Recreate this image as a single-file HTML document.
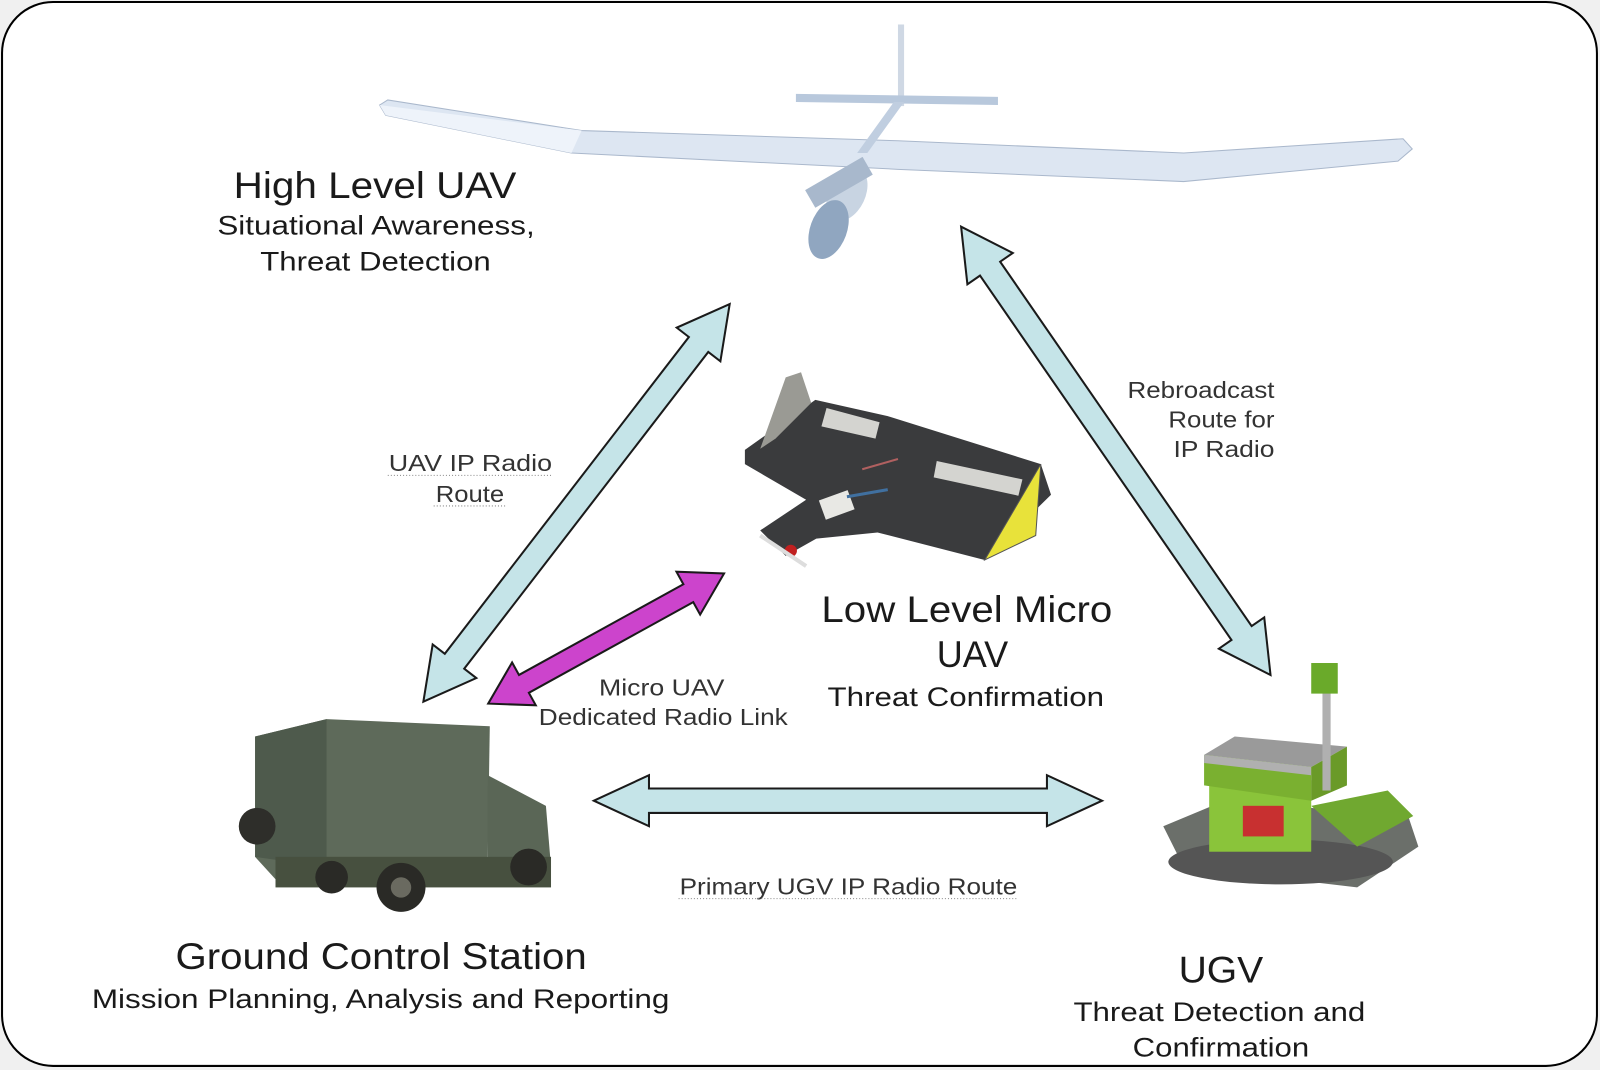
<!DOCTYPE html>
<html><head><meta charset="utf-8"><style>
html,body{margin:0;padding:0;background:#f0f0f0;width:1600px;height:1070px;overflow:hidden}
svg{display:block}
text{font-family:"Liberation Sans",Arial,sans-serif;fill:#1a1a1a}
.t{font-size:36px}.s{font-size:26px}.l{font-size:23px;fill:#333}
</style></head><body>
<svg width="1600" height="1070" viewBox="0 0 1568 1049" preserveAspectRatio="none">
<rect x="2" y="2" width="1563" height="1043" rx="50" fill="#fff" stroke="#000" stroke-width="2"/>

<!-- High level UAV -->
<g>
<polygon points="372,103 380,98 570,128 880,138 1160,150 1375,136 1384,146 1370,158 1160,178 880,166 560,150 378,113" fill="#dde6f2" stroke="#aab8cc" stroke-width="1"/>
<polygon points="372,103 570,128 560,150 378,113" fill="#eef3fa"/>
<rect x="880" y="24" width="6" height="80" fill="#cfd8e4"/>
<polygon points="780,92 978,95 978,103 780,100" fill="#b8c8dc"/>
<polygon points="876,100 886,100 850,150 840,150" fill="#c0cee0"/>
<ellipse cx="830" cy="190" rx="28" ry="18" fill="#c8d4e2" transform="rotate(-65 830 190)"/>
<ellipse cx="812" cy="225" rx="18" ry="30" fill="#90a6c0" transform="rotate(20 812 225)"/>
<rect x="790" y="170" width="65" height="20" fill="#a8b8cc" transform="rotate(-30 820 180)"/>
</g>
<text class="t" x="229" y="194" textLength="277" lengthAdjust="spacingAndGlyphs">High Level UAV</text>
<text class="s" x="213" y="230" textLength="311" lengthAdjust="spacingAndGlyphs">Situational Awareness,</text>
<text class="s" x="255" y="265" textLength="226" lengthAdjust="spacingAndGlyphs">Threat Detection</text>

<!-- Micro UAV -->
<g>
<polygon points="730,441 799,392 870,408 1020,455 1030,485 965,549 860,522 800,528 770,545 745,520 790,490 730,455" fill="#3a3b3d"/>
<polygon points="745,440 770,370 785,365 795,395 760,430" fill="#9a9a94"/>
<polygon points="1020,455 1015,525 965,549" fill="#e8e23a" stroke="#555" stroke-width="1"/>
<polygon points="810,400 862,414 858,430 805,418" fill="#d4d4d0"/>
<polygon points="918,452 1002,470 998,486 915,468" fill="#d4d4d0"/>
<rect x="805" y="485" width="30" height="20" fill="#e8e8e4" transform="rotate(-20 820 495)"/>
<line x1="845" y1="460" x2="880" y2="450" stroke="#b06060" stroke-width="2"/>
<line x1="830" y1="487" x2="870" y2="480" stroke="#4070a0" stroke-width="3"/>
<circle cx="775" cy="540" r="6" fill="#c02020"/>
<line x1="745" y1="525" x2="790" y2="555" stroke="#ddd" stroke-width="4"/>
</g>
<text class="t" x="805" y="610" textLength="285" lengthAdjust="spacingAndGlyphs">Low Level Micro</text>
<text class="t" x="918" y="654" textLength="70" lengthAdjust="spacingAndGlyphs">UAV</text>
<text class="s" x="811" y="692" textLength="271" lengthAdjust="spacingAndGlyphs">Threat Confirmation</text>

<!-- Truck -->
<g>
<polygon points="250,722 320,705 480,712 478,840 270,862 250,840" fill="#5e6a5a"/>
<polygon points="250,722 320,705 320,850 250,840" fill="#4e5a4c"/>
<polygon points="478,760 535,790 540,850 478,860" fill="#5a6656"/>
<rect x="270" y="840" width="270" height="30" fill="#47503f"/>
<circle cx="252" cy="810" r="18" fill="#2e2e2a"/>
<circle cx="393" cy="870" r="24" fill="#2a2a26"/>
<circle cx="393" cy="870" r="10" fill="#6a6a60"/>
<circle cx="518" cy="850" r="18" fill="#2a2a26"/>
<circle cx="325" cy="860" r="16" fill="#2a2a26"/>
</g>
<text class="t" x="172" y="950" textLength="403" lengthAdjust="spacingAndGlyphs">Ground Control Station</text>
<text class="s" x="90" y="988" textLength="566" lengthAdjust="spacingAndGlyphs">Mission Planning, Analysis and Reporting</text>

<!-- UGV -->
<g>
<polygon points="1140,810 1200,785 1380,800 1390,830 1330,870 1160,850" fill="#6b6f6a"/>
<ellipse cx="1255" cy="845" rx="110" ry="22" fill="#555"/>
<rect x="1185" y="765" width="100" height="70" fill="#8ac43a"/>
<polygon points="1180,740 1210,722 1320,732 1285,752" fill="#9a9a9a"/>
<polygon points="1180,740 1285,752 1285,785 1180,770" fill="#7ab030"/>
<polygon points="1180,740 1285,752 1285,760 1180,748" fill="#b0b0b0"/>
<polygon points="1285,752 1320,732 1320,770 1285,785" fill="#6a9a28"/>
<polygon points="1285,790 1360,775 1385,800 1330,830" fill="#70a830"/>
<rect x="1218" y="790" width="40" height="30" fill="#c83030"/>
<rect x="1296" y="665" width="8" height="110" fill="#b0b0b0"/>
<rect x="1285" y="650" width="26" height="30" fill="#6aaa2a"/>
</g>
<text class="t" x="1155" y="963" textLength="83" lengthAdjust="spacingAndGlyphs">UGV</text>
<text class="s" x="1052" y="1001" textLength="286" lengthAdjust="spacingAndGlyphs">Threat Detection and</text>
<text class="s" x="1110" y="1036" textLength="173" lengthAdjust="spacingAndGlyphs">Confirmation</text>

<!-- arrows -->
<g fill="#c5e4e8" stroke="#1a1a1a" stroke-width="2" stroke-linejoin="miter">
<polygon transform="translate(565,493) rotate(127.6)" points="-246,0 -196,-27 -196,-12 196,-12 196,-27 246,0 196,27 196,12 -196,12 -196,27"/>
<polygon transform="translate(1093.5,442) rotate(55.4)" points="-267,0 -217,-27 -217,-12 217,-12 217,-27 267,0 217,27 217,12 -217,12 -217,27"/>
<polygon transform="translate(831,785)" points="-249,0 -195,-25 -195,-12 195,-12 195,-25 249,0 195,25 195,12 -195,12 -195,25"/>
<polygon fill="#cc44cc" transform="translate(594,626) rotate(151.1)" points="-132,0 -92,-24 -92,-10 92,-10 92,-24 132,0 92,24 92,10 -92,10 -92,24"/>
</g>

<text class="l" x="381" y="462" textLength="160" lengthAdjust="spacingAndGlyphs">UAV IP Radio</text>
<text class="l" x="427" y="492" textLength="67" lengthAdjust="spacingAndGlyphs">Route</text>
<text class="l" x="1105" y="390" textLength="144" lengthAdjust="spacingAndGlyphs">Rebroadcast</text>
<text class="l" x="1145" y="419" textLength="104" lengthAdjust="spacingAndGlyphs">Route for</text>
<text class="l" x="1150" y="448" textLength="99" lengthAdjust="spacingAndGlyphs">IP Radio</text>
<text class="l" x="587" y="682" textLength="123" lengthAdjust="spacingAndGlyphs">Micro UAV</text>
<text class="l" x="528" y="711" textLength="244" lengthAdjust="spacingAndGlyphs">Dedicated Radio Link</text>
<text class="l" x="666" y="877" textLength="331" lengthAdjust="spacingAndGlyphs">Primary UGV IP Radio Route</text>
<g stroke="#888" stroke-width="1" stroke-dasharray="1,2">
<line x1="380" y1="466" x2="542" y2="466"/><line x1="425" y1="496" x2="497" y2="496"/>
<line x1="665" y1="881" x2="997" y2="881"/>
</g>
</svg>
</body></html>
